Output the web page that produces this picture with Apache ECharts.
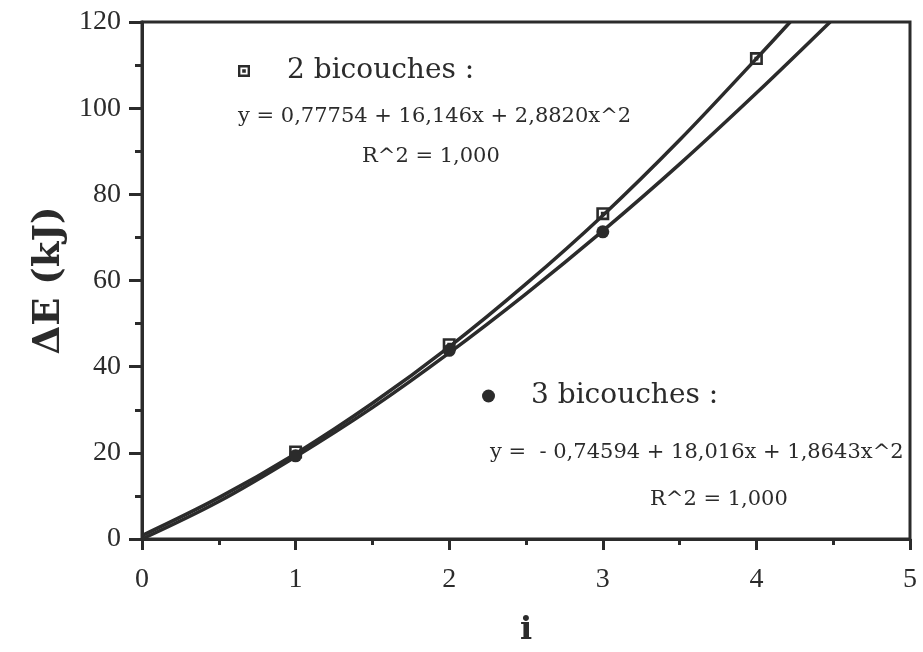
<!DOCTYPE html>
<html>
<head>
<meta charset="utf-8">
<script src="https://cdn.jsdelivr.net/npm/echarts@6/dist/echarts.min.js"></script>
<style>html,body{margin:0;padding:0;background:#fff}#c{width:923px;height:652px}</style>
</head>
<body>
<div id="c"></div>
<script>
// Fitted curves
const fitX2 = [0, 0.5, 1, 1.5, 2, 2.5, 3, 3.5, 4, 4.22];
const fitY2 = [0.8, 9.6, 19.8, 31.5, 44.6, 59.2, 75.1, 92.6, 111.5, 120];
const fitX3 = [0, 0.5, 1, 1.5, 2, 2.5, 3, 3.5, 4, 4.48];
const fitY3 = [0, 8.7, 19.1, 30.5, 43.2, 56.9, 71.5, 87.0, 103.5, 120];
// Measured points
const ptsX2 = [1, 2, 3, 4];
const ptsY2 = [20.2, 45.1, 75.5, 111.5];
const ptsX3 = [1, 2, 3];
const ptsY3 = [19.3, 43.8, 71.3];
// Axis ticks
const xTicks = [0, 1, 2, 3, 4, 5];
const yTicks = [0, 20, 40, 60, 80, 100, 120];
const seriesNames = ['2 bicouches :', '3 bicouches :'];
const eq2 = 'y = 0,77754 + 16,146x + 2,8820x^2';
const eq3 = 'y =  - 0,74594 + 18,016x + 1,8643x^2';
const r2 = 'R^2 = 1,000';

const ink = '#2b2b2b';
const serif = '"DejaVu Serif", "Liberation Serif", serif';
const tickFont = '"Liberation Serif", "DejaVu Serif", serif';
const sqIcon = 'path://M0,0H10V10H0Z M2,2V8H8V2Z M3.5,3.5H6.5V6.5H3.5Z';
const zip = (a, b) => a.map((v, i) => [v, b[i]]);

const chart = echarts.init(document.getElementById('c'), null, {renderer: 'canvas'});
chart.setOption({
  animation: false,
  backgroundColor: '#fff',
  grid: {left: 142, right: 13, top: 22, bottom: 113, show: true, borderColor: ink, borderWidth: 3, backgroundColor: 'transparent'},
  xAxis: {
    type: 'value', min: xTicks[0], max: xTicks[xTicks.length - 1], interval: 1,
    name: 'i', nameLocation: 'middle', nameGap: 76,
    nameTextStyle: {fontFamily: serif, fontWeight: 'bold', fontSize: 32, color: ink},
    axisLine: {lineStyle: {color: ink, width: 3}},
    axisTick: {length: 11, lineStyle: {color: ink, width: 3}},
    minorTick: {show: true, splitNumber: 2, length: 6, lineStyle: {color: ink, width: 3}},
    splitLine: {show: false},
    axisLabel: {fontFamily: tickFont, fontSize: 28, color: ink, margin: 27}
  },
  yAxis: {
    type: 'value', min: yTicks[0], max: yTicks[yTicks.length - 1], interval: 20,
    name: 'ΔE (kJ)', nameLocation: 'middle', nameGap: 72,
    nameTextStyle: {fontFamily: serif, fontWeight: 'bold', fontSize: 37, color: ink},
    axisLine: {show: true, lineStyle: {color: ink, width: 3}},
    axisTick: {show: true, length: 13, lineStyle: {color: ink, width: 3}},
    minorTick: {show: true, splitNumber: 2, length: 7, lineStyle: {color: ink, width: 3}},
    splitLine: {show: false},
    axisLabel: {fontFamily: tickFont, fontSize: 28, color: ink, margin: 21}
  },
  legend: [
    {data: [seriesNames[0]], left: 233, top: 52, itemWidth: 12, itemHeight: 12, itemGap: 0,
     icon: sqIcon, itemStyle: {opacity: 1},
     textStyle: {fontFamily: serif, fontSize: 28, color: ink, padding: [0, 0, 0, 32]}},
    {data: [seriesNames[1]], left: 477, top: 377, itemWidth: 13, itemHeight: 13, itemGap: 0,
     icon: 'circle', itemStyle: {opacity: 1},
     textStyle: {fontFamily: serif, fontSize: 28, color: ink, padding: [0, 0, 0, 31]}}
  ],
  graphic: [
    {type: 'text', left: 238, top: 106, style: {text: eq2, fontFamily: serif, fontSize: 21, fill: ink}},
    {type: 'text', left: 362, top: 146, style: {text: r2, fontFamily: serif, fontSize: 21, fill: ink}},
    {type: 'text', left: 490, top: 442, style: {text: eq3, fontFamily: serif, fontSize: 21, fill: ink}},
    {type: 'text', left: 650, top: 489, style: {text: r2, fontFamily: serif, fontSize: 21, fill: ink}}
  ],
  series: [
    {name: 'fit2', type: 'line', data: zip(fitX2, fitY2), smooth: 0.35, showSymbol: false,
     lineStyle: {color: ink, width: 3.5}, clip: true, silent: true},
    {name: 'fit3', type: 'line', data: zip(fitX3, fitY3), smooth: 0.35, showSymbol: false,
     lineStyle: {color: ink, width: 3.5}, clip: true, silent: true},
    {name: seriesNames[0], type: 'scatter', data: zip(ptsX2, ptsY2), symbol: sqIcon, symbolSize: 13,
     itemStyle: {color: ink, opacity: 1}, z: 5},
    {name: seriesNames[1], type: 'scatter', data: zip(ptsX3, ptsY3), symbol: 'circle', symbolSize: 13,
     itemStyle: {color: ink, opacity: 1}, z: 5}
  ]
});
</script>
</body>
</html>
